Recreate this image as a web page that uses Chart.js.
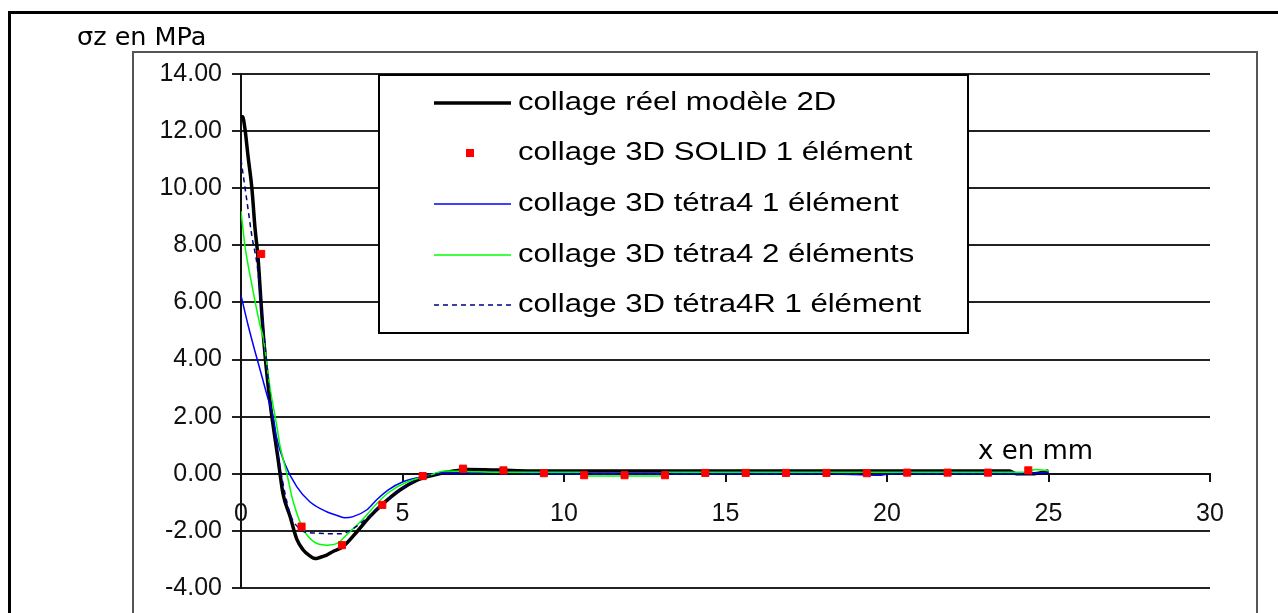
<!DOCTYPE html>
<html>
<head>
<meta charset="utf-8">
<script src="https://cdn.jsdelivr.net/npm/chart.js@4/dist/chart.umd.min.js"></script>
<style>
  html, body { margin: 0; padding: 0; background: #fff; }
  canvas { display: block; }
</style>
</head>
<body>
<canvas id="myChart" width="1278" height="613"></canvas>
<script>
// tick labels
const xTickLabels = ["0", "5", "10", "15", "20", "25", "30"];
const yTickLabels = ["-4.00", "-2.00", "0.00", "2.00", "4.00", "6.00", "8.00", "10.00", "12.00", "14.00"];

// collage réel modèle 2D
const reelX = [0, 0.05, 0.12, 0.22, 0.34, 0.43, 0.53, 0.62, 0.71, 0.87, 0.96, 1.14, 1.30, 1.52, 1.73, 1.92, 2.10, 2.29, 2.44, 2.65, 2.85, 3.16, 3.59, 3.99, 4.36, 4.92, 5.45, 5.94, 6.5, 7.0, 8.0, 9.0, 10, 12, 14, 16, 18, 20, 22, 23.8, 24.0, 24.5, 25.0];
const reelY = [12.5, 12.5, 12.1, 11.1, 9.96, 8.65, 7.53, 6.0, 4.6, 2.77, 1.97, 0.58, -0.7, -1.5, -2.3, -2.66, -2.85, -2.97, -2.93, -2.85, -2.72, -2.55, -2.03, -1.5, -1.09, -0.57, -0.22, -0.05, 0.08, 0.15, 0.13, 0.1, 0.1, 0.1, 0.1, 0.1, 0.1, 0.1, 0.1, 0.1, 0.0, 0.0, 0.1];

// collage 3D SOLID 1 élément
const solidX = [0.625, 1.875, 3.125, 4.375, 5.625, 6.875, 8.125, 9.375, 10.625, 11.875, 13.125, 14.375, 15.625, 16.875, 18.125, 19.375, 20.625, 21.875, 23.125, 24.375];
const solidY = [7.7, -1.85, -2.5, -1.09, -0.08, 0.18, 0.12, 0.02, -0.05, -0.05, -0.05, 0.03, 0.03, 0.03, 0.03, 0.02, 0.04, 0.04, 0.04, 0.12];

// collage 3D tétra4 1 élément
const tetra1X = [0, 0.22, 0.43, 0.65, 0.8, 1.0, 1.1, 1.36, 1.73, 2.13, 2.65, 3.0, 3.22, 3.47, 3.9, 4.2, 4.55, 5.0, 5.54, 6.15, 7, 8, 9, 10, 12, 14, 16, 18, 19.8, 20.1, 22, 24, 25];
const tetra1Y = [6.25, 5.2, 4.3, 3.4, 2.77, 1.97, 1.28, 0.34, -0.46, -0.98, -1.33, -1.47, -1.54, -1.5, -1.26, -0.91, -0.57, -0.29, -0.12, 0.02, 0.05, 0.05, 0.02, 0.0, 0.0, 0.0, 0.0, 0.0, -0.05, 0.0, 0.0, 0.0, 0.05];

// collage 3D tétra4 2 éléments
const tetra2X = [0, 0.12, 0.34, 0.59, 0.69, 0.9, 1.1, 1.2, 1.42, 1.6, 1.92, 2.24, 2.65, 2.97, 3.31, 3.78, 4.2, 4.6, 5.14, 5.85, 6.3, 7, 8, 9, 10.5, 10.6, 13.0, 13.1, 16, 20, 23.5, 24.3, 24.6, 25];
const tetra2Y = [9.2, 8.0, 6.6, 5.2, 4.75, 3.0, 1.73, 1.03, 0.0, -0.91, -1.92, -2.37, -2.5, -2.44, -2.09, -1.58, -1.05, -0.63, -0.29, -0.05, 0.1, 0.08, 0.05, 0.05, 0.05, -0.08, -0.08, 0.05, 0.05, 0.05, 0.05, 0.05, 0.15, 0.1];

// collage 3D tétra4R 1 élément
const tetraRX = [0, 0.19, 0.34, 0.5, 0.62, 0.9, 1.2, 1.52, 1.85, 2.04, 3.1, 3.5, 4.0, 4.4, 5.0, 5.6, 6.2, 7, 10, 15, 20, 25];
const tetraRY = [11.0, 9.5, 8.3, 7.3, 6.0, 2.7, 0.3, -1.4, -1.95, -2.05, -2.1, -1.9, -1.45, -1.05, -0.5, -0.15, 0.0, 0.0, -0.02, -0.02, -0.02, 0.0];

function pts(xs, ys) {
  return xs.map((x, i) => ({ x: x, y: ys[i] }));
}

const TICK_FONT = { family: "'Liberation Sans', Arial, sans-serif", size: 25 };

// frames, titles and the boxed legend
const decor = {
  id: "decor",
  beforeDraw(chart) {
    const c = chart.ctx;
    c.save();
    c.fillStyle = "#fff";
    c.fillRect(0, 0, chart.width, chart.height);
    c.fillStyle = "#000";
    c.fillRect(8, 11, 1270, 3);
    c.fillRect(8, 11, 3, 602);
    c.strokeStyle = "#555";
    c.lineWidth = 2;
    c.beginPath();
    c.moveTo(133, 620);
    c.lineTo(133, 52);
    c.lineTo(1257, 52);
    c.lineTo(1257, 620);
    c.stroke();
    c.restore();
  },
  afterDraw(chart) {
    const c = chart.ctx;
    c.save();
    c.fillStyle = "#000";
    c.textBaseline = "alphabetic";
    c.font = "25.5px 'DejaVu Sans'";
    c.fillText("\u03c3z en MPa", 77, 45);
    c.font = "26px 'DejaVu Sans'";
    c.fillText("x en mm", 978, 459);

    // legend
    c.fillStyle = "#fff";
    c.fillRect(379, 75, 589, 258);
    c.strokeStyle = "#000";
    c.lineWidth = 2;
    c.strokeRect(379, 75, 589, 258);
    const rows = [103, 153, 204, 255, 305];
    c.font = "25px 'Liberation Sans'";
    c.textBaseline = "middle";
    chart.data.datasets.forEach((ds, i) => {
      const y = rows[i];
      if (ds.showLine === false) {
        c.fillStyle = ds.backgroundColor;
        c.fillRect(466, y - 4, 8, 8);
      } else {
        c.strokeStyle = ds.borderColor;
        c.lineWidth = ds.borderWidth;
        c.setLineDash(ds.borderDash || []);
        c.beginPath();
        c.moveTo(434, y);
        c.lineTo(511, y);
        c.stroke();
        c.setLineDash([]);
      }
      c.save();
      c.translate(518, y);
      c.scale(1.245, 1);
      c.fillStyle = "#000";
      c.fillText(ds.label, 0, 0);
      c.restore();
    });
    c.restore();
  }
};

const ctx = document.getElementById("myChart").getContext("2d");
const myChart = new Chart(ctx, {
  type: "scatter",
  data: {
    datasets: [
      { label: "collage réel modèle 2D", data: pts(reelX, reelY), showLine: true, borderColor: "#000", borderWidth: 3.5, pointRadius: 0, cubicInterpolationMode: "monotone", order: 4 },
      { label: "collage 3D SOLID 1 élément", data: pts(solidX, solidY), showLine: false, pointStyle: "rect", pointRadius: 5, borderWidth: 1, backgroundColor: "#ff0000", borderColor: "#ff0000", order: 0 },
      { label: "collage 3D tétra4 1 élément", data: pts(tetra1X, tetra1Y), showLine: true, borderColor: "#0000ff", borderWidth: 1.5, pointRadius: 0, cubicInterpolationMode: "monotone", order: 3 },
      { label: "collage 3D tétra4 2 éléments", data: pts(tetra2X, tetra2Y), showLine: true, borderColor: "#00ff00", borderWidth: 1.5, pointRadius: 0, cubicInterpolationMode: "monotone", order: 2 },
      { label: "collage 3D tétra4R 1 élément", data: pts(tetraRX, tetraRY), showLine: true, borderColor: "#000080", borderWidth: 1.5, borderDash: [5, 4], pointRadius: 0, cubicInterpolationMode: "monotone", order: 1 }
    ]
  },
  options: {
    responsive: false,
    animation: false,
    events: [],
    layout: { padding: { left: 140, top: 74, right: 68, bottom: 21 } },
    plugins: { legend: { display: false }, tooltip: { enabled: false } },
    scales: {
      x: {
        type: "linear",
        min: 0,
        max: 30,
        position: { y: 0 },
        ticks: {
          stepSize: 5,
          maxRotation: 0,
          padding: 18,
          color: "#111",
          font: TICK_FONT,
          callback: (v, i) => xTickLabels[i]
        },
        grid: { drawOnChartArea: false, tickLength: 7, color: "#111", lineWidth: 2 },
        border: { color: "#111", width: 2 }
      },
      y: {
        min: -4,
        max: 14,
        afterFit: (s) => { s.width = 101; },
        ticks: {
          stepSize: 2,
          padding: 10,
          color: "#111",
          font: TICK_FONT,
          callback: (v, i) => yTickLabels[i]
        },
        grid: { color: "#222", lineWidth: 2, tickLength: 9 },
        border: { color: "#111", width: 2 }
      }
    }
  },
  plugins: [decor]
});
</script>
</body>
</html>
